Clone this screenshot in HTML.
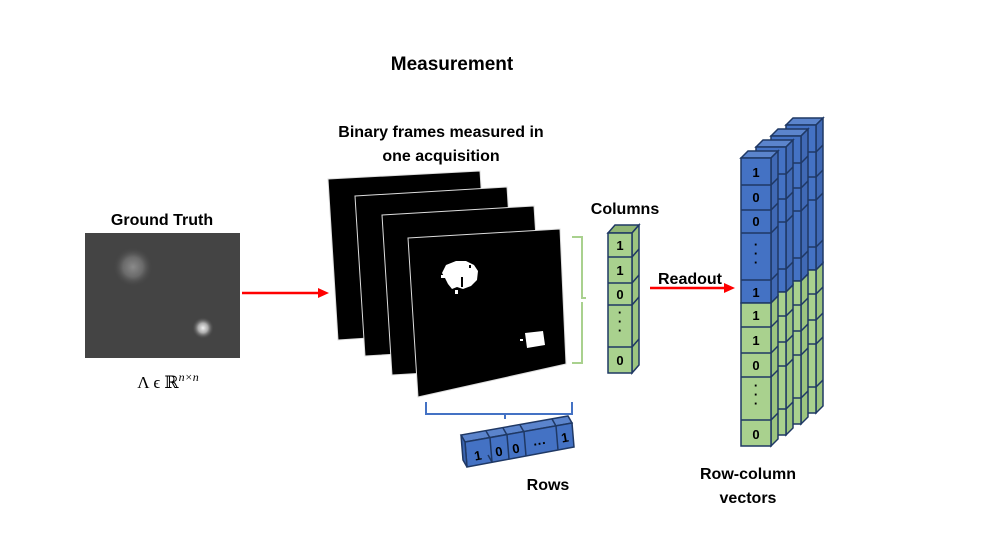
<!DOCTYPE html>
<html><head><meta charset="utf-8"><style>
html,body{margin:0;padding:0;background:#fff;}
svg{display:block;}
text{font-family:"Liberation Sans",sans-serif;}
.b{font-weight:bold;font-size:16px;fill:#000;}
.d{font-weight:bold;font-size:13px;fill:#000;text-anchor:middle;}
</style></head><body>
<svg width="998" height="541" viewBox="0 0 998 541" xmlns="http://www.w3.org/2000/svg">
<defs>
<radialGradient id="g1"><stop offset="0" stop-color="#8a8a8a"/><stop offset="0.5" stop-color="#6a6a6a"/><stop offset="1" stop-color="#444" stop-opacity="0"/></radialGradient>
<radialGradient id="g2"><stop offset="0" stop-color="#f0f0f0"/><stop offset="0.45" stop-color="#aaa"/><stop offset="1" stop-color="#444" stop-opacity="0"/></radialGradient>
<g id="col">
  <polygon points="0,0 30,0 37,-7 7,-7" fill="#5b84cc" stroke="#1f3864" stroke-width="1.5"/>
  <polygon points="30,0 37,-7 37,138 30,145" fill="#4069b5" stroke="#1f3864" stroke-width="1.5"/>
  <polygon points="30,145 37,138 37,281 30,288" fill="#9cc47f" stroke="#1f3864" stroke-width="1.5"/>
  <rect x="0" y="0" width="30" height="145" fill="#4472c4" stroke="#1f3864" stroke-width="1.5"/>
  <rect x="0" y="145" width="30" height="143" fill="#a9d18e" stroke="#1f3864" stroke-width="1.5"/>
  <path d="M0,27h30l7,-7M0,52h30l7,-7M0,75h30l7,-7M0,122h30l7,-7M0,169h30l7,-7M0,195h30l7,-7M0,219h30l7,-7M0,262h30l7,-7" stroke="#1f3864" stroke-width="1.5" fill="none"/>
</g>
</defs>

<text x="452" y="70" class="b" font-size="19" style="font-size:19px" text-anchor="middle">Measurement</text>
<text x="441" y="137" class="b" text-anchor="middle">Binary frames measured in</text>
<text x="441" y="161" class="b" text-anchor="middle">one acquisition</text>
<text x="162" y="225" class="b" text-anchor="middle">Ground Truth</text>

<!-- ground truth -->
<rect x="85" y="233" width="155" height="125" fill="#444"/>
<circle cx="133" cy="267" r="20" fill="url(#g1)"/>
<circle cx="203" cy="328" r="11" fill="url(#g2)"/>
<text x="168" y="388" font-family="Liberation Serif,serif" font-size="17" text-anchor="middle" style="font-family:'Liberation Serif','DejaVu Serif',serif;font-size:17px">Λ ϵ ℝ<tspan font-style="italic" dy="-7" font-size="12">n×n</tspan></text>

<!-- red arrows -->
<line x1="242" y1="293" x2="320" y2="293" stroke="#f00" stroke-width="2.5"/>
<polygon points="318,288 329,293 318,298" fill="#f00"/>
<line x1="650" y1="288" x2="726" y2="288" stroke="#f00" stroke-width="2.5"/>
<polygon points="724,283 735,288 724,293" fill="#f00"/>

<!-- frames -->
<polygon points="328,179 480,171 490,330 338,340" fill="#000" stroke="#ddd" stroke-width="1"/>
<polygon points="355,196 507,187 517,347 365,356" fill="#000" stroke="#ddd" stroke-width="1"/>
<polygon points="382,215 534,206 544,366 392,375" fill="#000" stroke="#ddd" stroke-width="1"/>
<polygon points="408,238 560,229 566,364 418,397" fill="#000" stroke="#ddd" stroke-width="1"/>
<g fill="#fff">
<path d="M446,265 l10,-4 10,0 8,4 4,6 -1,9 -6,6 -8,3 -6,-2 -5,2 -4,-5 -3,-6 -3,-5 z"/>
<rect x="441" y="275" width="4" height="3"/><rect x="455" y="290" width="3" height="4"/>
<rect x="461" y="277" width="2" height="10" fill="#000"/><rect x="469" y="265" width="2" height="3" fill="#000"/>
<path d="M525,333 l18,-2 2,14 -18,3 z"/>
<rect x="520" y="339" width="3" height="2"/>
</g>

<!-- braces -->
<path d="M572,237 h10 v61 h4 M582,302 v61 h-10" stroke="#a9d18e" stroke-width="2" fill="none"/>
<path d="M426,402 v12 h79 v5 M505,414 h67 v-12" stroke="#4472c4" stroke-width="2" fill="none"/>

<!-- Columns vector -->
<text x="625" y="214" class="b" text-anchor="middle">Columns</text>
<polygon points="608,233 632,233 639,225 615,225" fill="#8fb574" stroke="#1f3864" stroke-width="1.5"/>
<polygon points="632,233 639,225 639,365 632,373" fill="#9cc47f" stroke="#1f3864" stroke-width="1.5"/>
<rect x="608" y="233" width="24" height="140" fill="#a9d18e" stroke="#1f3864" stroke-width="1.5"/>
<path d="M608,257h24l7,-8M608,283h24l7,-8M608,305h24l7,-8M608,347h24l7,-8" stroke="#1f3864" stroke-width="1.5" fill="none"/>
<text x="620" y="250" class="d">1</text>
<text x="620" y="275" class="d">1</text>
<text x="620" y="299" class="d">0</text>
<text x="620" y="317" class="d">·</text><text x="620" y="326" class="d">·</text><text x="620" y="335" class="d">·</text>
<text x="620" y="365" class="d">0</text>

<!-- Rows vector -->
<polygon points="465,442 572,423 568,416 461,435" fill="#5b84cc" stroke="#1f3864" stroke-width="1.5"/>
<polygon points="465,442 572,423 574,447 467,467" fill="#4472c4" stroke="#1f3864" stroke-width="1.5"/>
<polygon points="461,435 465,442 467,467 463,460" fill="#3a64b0" stroke="#1f3864" stroke-width="1.5"/>
<path d="M490,438 l2,24 l-4,-7 M507,435 l2,24 M524,432 l2,24 M556,426 l2,24" stroke="#1f3864" stroke-width="1.5" fill="none"/>
<path d="M490,438 l-4,-7 M507,435 l-4,-7 M524,432 l-4,-7 M556,426 l-4,-7" stroke="#1f3864" stroke-width="1.5" fill="none"/>
<text x="478" y="460" class="d" transform="rotate(-10 478 456)">1</text>
<text x="499" y="456" class="d" transform="rotate(-10 499 452)">0</text>
<text x="516" y="453" class="d" transform="rotate(-10 516 449)">0</text>
<text x="540" y="448" class="d" transform="rotate(-10 540 444)">···</text>
<text x="565" y="442" class="d" transform="rotate(-10 565 438)">1</text>
<text x="548" y="490" class="b" text-anchor="middle">Rows</text>

<text x="690" y="284" class="b" text-anchor="middle">Readout</text>

<!-- Row-column vectors -->
<use href="#col" x="786" y="125"/>
<use href="#col" x="771" y="136"/>
<use href="#col" x="756" y="147"/>
<use href="#col" x="741" y="158"/>
<text x="756" y="177" class="d">1</text>
<text x="756" y="202" class="d">0</text>
<text x="756" y="226" class="d">0</text>
<text x="756" y="249" class="d">·</text><text x="756" y="258" class="d">·</text><text x="756" y="267" class="d">·</text>
<text x="756" y="297" class="d">1</text>
<text x="756" y="320" class="d">1</text>
<text x="756" y="345" class="d">1</text>
<text x="756" y="370" class="d">0</text>
<text x="756" y="390" class="d">·</text><text x="756" y="399" class="d">·</text><text x="756" y="408" class="d">·</text>
<text x="756" y="439" class="d">0</text>
<text x="748" y="479" class="b" text-anchor="middle">Row-column</text>
<text x="748" y="503" class="b" text-anchor="middle">vectors</text>
</svg>
</body></html>
